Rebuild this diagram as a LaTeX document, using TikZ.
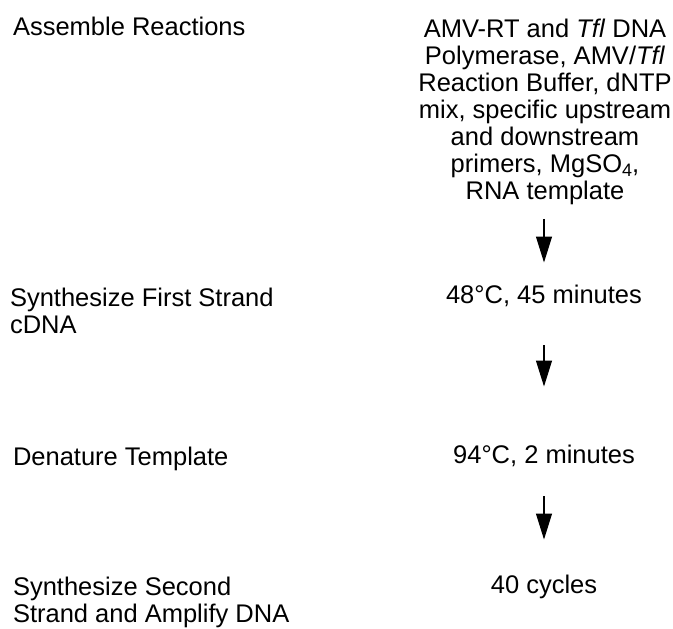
\documentclass[tikz,border=0pt]{standalone}
\usepackage{fontspec}
\setmainfont{Liberation Sans}
\usetikzlibrary{arrows.meta}
\begin{document}
\begin{tikzpicture}[x=1pt,y=-1pt,
  every node/.style={inner sep=0pt,outer sep=0pt,font=\fontsize{25.5}{27}\selectfont},
  lbl/.style={anchor=base west,align=left},
  cond/.style={anchor=base,align=center},
  flow/.style={line width=1.1pt,-{Triangle[width=16pt,length=26pt]}}]
\useasboundingbox (0,0) rectangle (673,629);
\node[lbl] (l1) at (13,35) {Assemble Reactions};
\node[lbl,anchor=north west] (l2) at (10,288) {Synthesize First Strand\\cDNA};
\node[lbl] (l3) at (13,465) {Denature Template};
\node[lbl,anchor=north west] (l4) at (13,577) {Synthesize Second\\Strand and Amplify DNA};
\node[cond,anchor=north] (r1) at (545,19) {AMV-RT and \textit{Tfl} DNA\\Polymerase, AMV/\textit{Tfl}\\Reaction Buffer, dNTP\\mix, specific upstream\\and downstream\\primers, MgSO\raisebox{-0.3ex}{\fontsize{18}{18}\selectfont 4},\\RNA template};
\node[cond] (r2) at (544,303) {48°C, 45 minutes};
\node[cond] (r3) at (544,463) {94°C, 2 minutes};
\node[cond] (r4) at (544,593) {40 cycles};
\draw[flow,shorten <=14pt,shorten >=22pt] (r1.south -| r2) -- (r2.north);
\draw[flow,shorten <=39pt,shorten >=58pt] (r2.south) -- (r3.north);
\draw[flow,shorten <=30pt,shorten >=35pt] (r3.south) -- (r4.north);
\end{tikzpicture}
\end{document}
